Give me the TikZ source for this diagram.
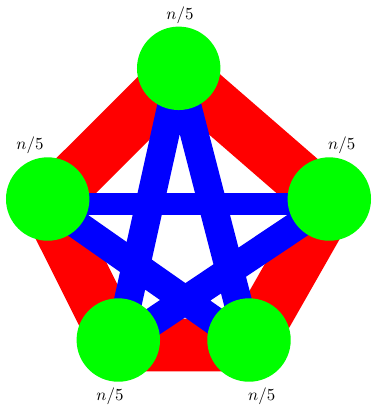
\documentclass[tikz,border=0pt]{standalone}
\usepackage{amsmath}
\usepackage{xcolor}
\usepackage{tikz}
\usetikzlibrary{positioning}

\begin{document}
\begin{tikzpicture}[x=0.0208cm, y=-0.0208cm,
  vtx/.style={circle, fill=green, inner sep=0pt, minimum size=1.735cm, yshift=2.95pt},
  ring/.style={red, line width=31.2pt},
  star/.style={blue, line width=16.8pt}]
  \useasboundingbox (0,0) rectangle (371,406);
  % edge end points
  \coordinate (p1) at (178.7,73.3);
  \coordinate (p2) at (47.7,204);
  \coordinate (p3) at (329.3,204);
  \coordinate (p4) at (118.3,345);
  \coordinate (p5) at (249,345);
  % outer cycle
  \draw[ring] (p1) -- (p2) (p2) -- (p4) (p4) -- (p5) (p5) -- (p3) (p3) -- (p1);
  % inner star
  \draw[star] (p1) -- (p4) (p1) -- (p5) (p2) -- (p5) (p3) -- (p4);
  \draw[star, line width=13.4pt] (p2) -- (p3);
  % parts
  \node[vtx] (c1) at (p1) {};
  \node[vtx] (c2) at (p2) {};
  \node[vtx] (c3) at (p3) {};
  \node[vtx] (c4) at (p4) {};
  \node[vtx] (c5) at (p5) {};
  \node (l1) at (180,15) {$n/5$};
  \node (l2) at (30,145) {$n/5$};
  \node (l3) at (341.7,145) {$n/5$};
  \node (l4) at (110,396.7) {$n/5$};
  \node (l5) at (261.7,396.7) {$n/5$};
\end{tikzpicture}
\end{document}
